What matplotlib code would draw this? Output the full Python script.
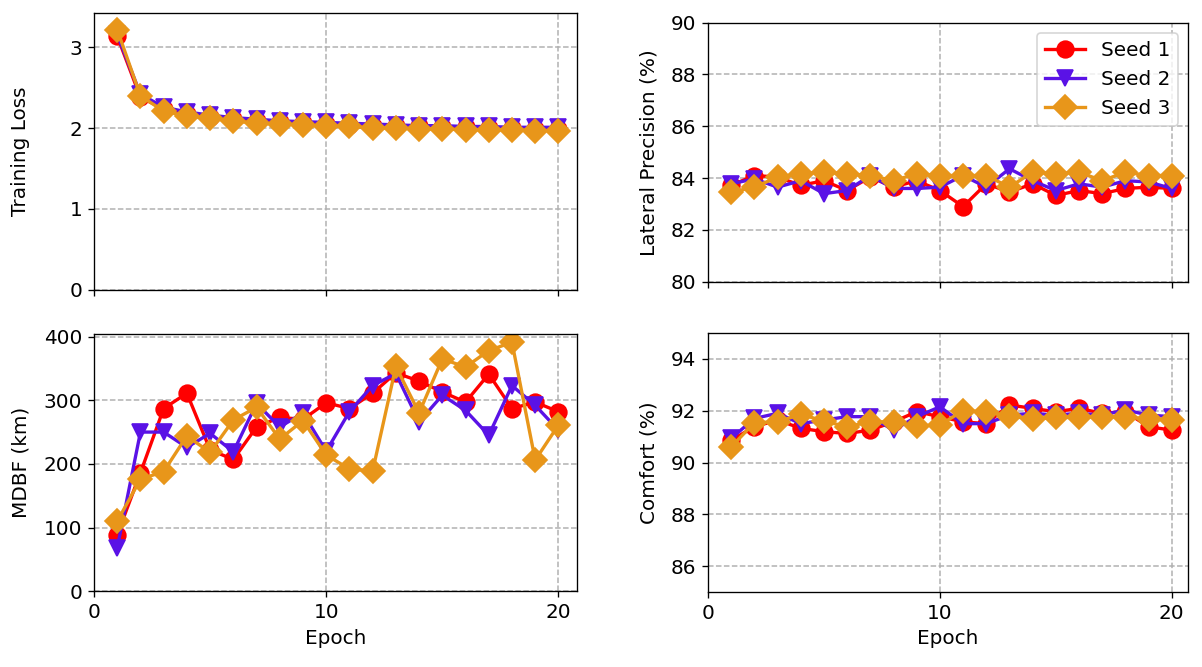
import matplotlib
matplotlib.use('Agg')
import matplotlib.pyplot as plt

# Data
epochs = list(range(1, 21))
seed_labels = ['Seed 1', 'Seed 2', 'Seed 3']

loss_s1 = [3.14, 2.38, 2.24, 2.17, 2.14, 2.11, 2.09, 2.07, 2.06, 2.05,
           2.04, 2.03, 2.02, 2.02, 2.01, 2.01, 2.00, 2.00, 1.99, 1.99]
loss_s2 = [3.16, 2.42, 2.26, 2.20, 2.16, 2.13, 2.11, 2.09, 2.08, 2.07,
           2.06, 2.05, 2.04, 2.03, 2.03, 2.02, 2.02, 2.01, 2.01, 2.01]
loss_s3 = [3.22, 2.40, 2.21, 2.15, 2.12, 2.09, 2.06, 2.05, 2.04, 2.02,
           2.02, 2.00, 2.00, 1.99, 1.99, 1.98, 1.98, 1.98, 1.97, 1.97]

prec_s1 = [83.72, 84.10, 84.04, 83.72, 83.90, 83.52, 84.04, 83.65, 83.90, 83.52,
           82.90, 83.78, 83.46, 83.78, 83.33, 83.52, 83.40, 83.60, 83.65, 83.60]
prec_s2 = [83.78, 83.97, 83.65, 83.90, 83.40, 83.52, 84.10, 83.60, 83.60, 83.65,
           84.10, 83.65, 84.36, 83.90, 83.52, 83.78, 83.65, 83.90, 83.85, 83.60]
prec_s3 = [83.46, 83.65, 84.04, 84.17, 84.23, 84.17, 84.10, 83.90, 84.17, 84.10,
           84.10, 84.10, 83.65, 84.23, 84.17, 84.23, 83.90, 84.23, 84.10, 84.10]

mdbf_s1 = [89, 186, 287, 311, 222, 207, 258, 273, 270, 296,
           287, 311, 343, 330, 313, 297, 341, 287, 297, 282]
mdbf_s2 = [68, 250, 250, 226, 248, 219, 295, 258, 280, 220,
           282, 323, 342, 266, 308, 284, 245, 323, 292, 253]
mdbf_s3 = [110, 176, 188, 244, 218, 269, 289, 239, 268, 214,
           192, 189, 353, 280, 365, 352, 378, 391, 206, 261]

comfort_s1 = [90.86, 91.38, 91.64, 91.32, 91.19, 91.12, 91.25, 91.57, 91.96, 91.77,
              91.57, 91.50, 92.22, 92.09, 91.96, 92.09, 91.90, 91.96, 91.38, 91.25]
comfort_s2 = [90.93, 91.70, 91.90, 91.50, 91.64, 91.77, 91.77, 91.25, 91.77, 92.15,
              91.50, 91.50, 91.83, 91.90, 91.83, 91.90, 91.83, 92.03, 91.83, 91.77]
comfort_s3 = [90.60, 91.54, 91.57, 91.86, 91.60, 91.38, 91.57, 91.57, 91.41, 91.45,
              92.00, 91.96, 91.80, 91.67, 91.74, 91.74, 91.77, 91.77, 91.67, 91.64]

colors = ['#ff0000', '#5a12e6', '#e8961a']
markers = ['o', 'v', 'D']

plt.rcParams['font.family'] = 'DejaVu Sans'
plt.rcParams['font.size'] = 12

W, H = 1202, 667
fig = plt.figure(figsize=(W / 120, H / 120), dpi=120)


def rect(left, top, right, bottom):
    # pixel box -> figure fraction
    return [left / W, 1 - bottom / H, (right - left) / W, (bottom - top) / H]


ax_loss = fig.add_axes(rect(94, 12.7, 577, 289.5))
ax_prec = fig.add_axes(rect(708, 22.7, 1188, 281.7))
ax_mdbf = fig.add_axes(rect(94, 334, 577, 591.3))
ax_comf = fig.add_axes(rect(708, 333, 1188, 592))

# (axis, series, label, ylim, yticks, xlim, label x-position)
panels = [
    (ax_loss, [loss_s1, loss_s2, loss_s3], 'Training Loss', (0, 3.43), [0, 1, 2, 3], (0, 20.8), -0.132),
    (ax_prec, [prec_s1, prec_s2, prec_s3], 'Lateral Precision (%)', (80, 90), [80, 82, 84, 86, 88, 90], (0, 20.7), -0.104),
    (ax_mdbf, [mdbf_s1, mdbf_s2, mdbf_s3], 'MDBF (km)', (0, 404), [0, 100, 200, 300, 400], (0, 20.8), -0.132),
    (ax_comf, [comfort_s1, comfort_s2, comfort_s3], 'Comfort (%)', (85, 95), [86, 88, 90, 92, 94], (0, 20.7), -0.104),
]

for ax, series, ylabel, ylim, yticks, xlim, labx in panels:
    for vals, c, m, lab in zip(series, colors, markers, seed_labels):
        ax.plot(epochs, vals, color=c, marker=m, markersize=10, linewidth=2, label=lab)
    ax.set_ylabel(ylabel)
    ax.yaxis.set_label_coords(labx, 0.5)
    ax.set_ylim(*ylim)
    ax.set_yticks(yticks)
    ax.set_xlim(*xlim)
    ax.set_xticks([0, 10, 20])
    ax.grid(True, linestyle='--', color='#b0b0b0', linewidth=0.9)
    ax.set_axisbelow(True)

# top row shares the x axis with the bottom row
ax_loss.tick_params(labelbottom=False)
ax_prec.tick_params(labelbottom=False)
ax_mdbf.set_xlabel('Epoch')
ax_comf.set_xlabel('Epoch')

ax_prec.legend(loc='upper right')

fig.savefig('out.png', dpi=120)
